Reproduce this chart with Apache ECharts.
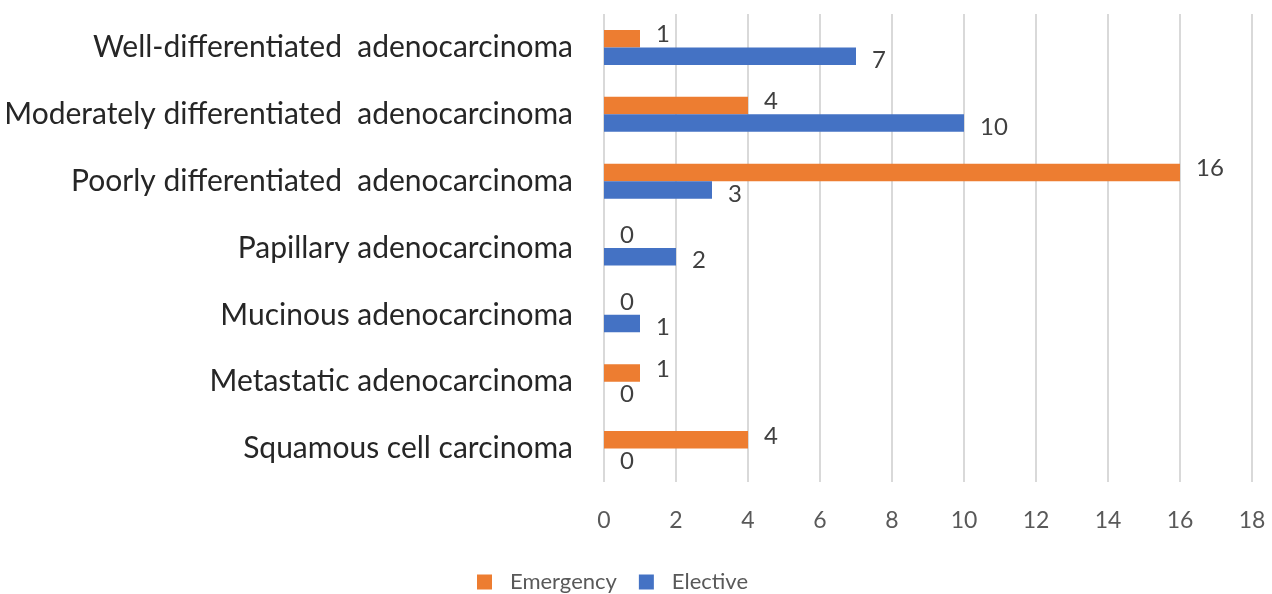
<!DOCTYPE html>
<html><head><meta charset="utf-8">
<script src="https://cdn.jsdelivr.net/npm/echarts@6/dist/echarts.min.js"></script>
<style>html,body{margin:0;padding:0;background:#fff}#c{width:1272px;height:594px}</style>
</head><body><div id="c"></div>
<script>
const categories = [
  'Well-differentiated  adenocarcinoma',
  'Moderately differentiated  adenocarcinoma',
  'Poorly differentiated  adenocarcinoma',
  'Papillary adenocarcinoma',
  'Mucinous adenocarcinoma',
  'Metastatic adenocarcinoma',
  'Squamous cell carcinoma'
];
const emergency = [1, 4, 16, 0, 0, 1, 4];
const elective = [7, 10, 3, 2, 1, 0, 0];
const seriesNames = ['Emergency', 'Elective'];

const chart = echarts.init(document.getElementById('c'));
const FONT = 'Lato';
chart.setOption({
  animation: false,
  textStyle: {fontFamily: FONT},
  grid: {left: 604, right: 20, top: 14, bottom: 112, containLabel: false},
  legend: {
    top: 566, left: 472, itemWidth: 15, itemHeight: 15, itemGap: 22,
    icon: 'rect',
    textStyle: {fontFamily: FONT, fontSize: 22, color: '#595959', padding: [0, 0, 0, 13]},
    data: seriesNames
  },
  xAxis: {
    type: 'value', min: 0, max: 18, interval: 2,
    axisLine: {show: false}, axisTick: {show: false},
    axisLabel: {fontFamily: FONT, fontSize: 23, color: '#595959', margin: 27},
    splitLine: {lineStyle: {color: '#d9d9d9', width: 2}}
  },
  yAxis: {
    type: 'category', data: categories, inverse: true,
    axisLine: {show: false}, axisTick: {show: false},
    axisLabel: {fontFamily: FONT, fontSize: 30, color: '#262626', margin: 31, padding: [4, 0, 0, 0]}
  },
  series: [
    {
      name: seriesNames[0], type: 'bar', data: emergency, barWidth: 17.5, barGap: '0%',
      itemStyle: {color: '#ED7D31'},
      label: {show: true, position: 'right', distance: 16, offset: [0, -4], fontFamily: FONT, fontSize: 24, color: '#404040'}
    },
    {
      name: seriesNames[1], type: 'bar', data: elective, barWidth: 17.5, barGap: '0%',
      itemStyle: {color: '#4472C4'},
      label: {show: true, position: 'right', distance: 16, offset: [0, 4], fontFamily: FONT, fontSize: 24, color: '#404040'}
    }
  ]
});
</script></body></html>
